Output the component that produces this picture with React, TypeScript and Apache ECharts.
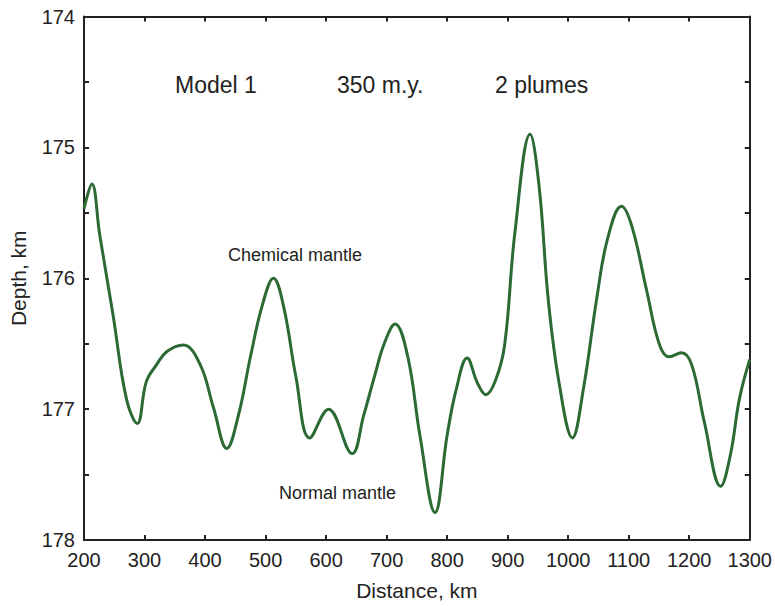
import React, { useEffect, useRef } from "react";
import * as echarts from "echarts";

const distanceKm = [
  200, 213, 226, 248, 270, 288, 303, 320, 337, 364, 392, 414, 436, 455, 475, 495, 513, 530, 550, 573,
  604, 643, 662, 680, 696, 714, 735, 755, 780, 800, 815, 833, 850, 864, 880, 895, 912, 937, 952, 967,
  985, 1007, 1025, 1047, 1065, 1088, 1105, 1129, 1151, 1167, 1187, 1204, 1225, 1252, 1268, 1283, 1300,
];
const depthKm = [
  175.47, 175.28, 175.67, 176.28, 176.92, 177.11, 176.79, 176.66, 176.56, 176.51, 176.66, 176.99, 177.3, 177.05, 176.6, 176.2, 176.0, 176.22, 176.75, 177.22,
  177.0, 177.34, 177.05, 176.75, 176.5, 176.35, 176.6, 177.2, 177.79, 177.2, 176.85, 176.61, 176.8, 176.89, 176.78, 176.51, 175.65, 174.9, 175.3, 176.16,
  176.8, 177.22, 176.85, 176.16, 175.7, 175.45, 175.6, 176.08, 176.51, 176.6, 176.57, 176.66, 177.1, 177.59, 177.35, 176.92, 176.62,
];

const annotations = ["Model 1", "350 m.y.", "2 plumes", "Chemical mantle", "Normal mantle"];

const FONT = "Liberation Sans, Arial, Helvetica, sans-serif";

export default function App() {
  const ref = useRef<HTMLDivElement>(null);
  useEffect(() => {
    if (!ref.current) return;
    const chart = echarts.init(ref.current, null, { renderer: "svg" });
    const axisLine = { show: true, lineStyle: { color: "#222", width: 2 } };
    const tick = { show: true, inside: true, length: 5, lineStyle: { color: "#222", width: 2 } };
    const yLabelFmt = (v: number) => (Math.abs(v - Math.round(v)) < 1e-6 ? String(Math.round(v)) : "");
    chart.setOption({
      animation: false,
      backgroundColor: "#fff",
      grid: { left: 84, right: 25, top: 16.5, bottom: 64, containLabel: false },
      xAxis: [
        {
          type: "value",
          min: 200,
          max: 1300,
          interval: 100,
          position: "bottom",
          name: "Distance, km",
          nameLocation: "middle",
          nameGap: 40,
          nameTextStyle: { fontFamily: FONT, fontSize: 21, color: "#222" },
          axisLine,
          axisTick: tick,
          splitLine: { show: false },
          axisLabel: { fontFamily: FONT, fontSize: 20, color: "#222", margin: 10, formatter: (v: number) => String(v) },
        },
        {
          type: "value",
          min: 200,
          max: 1300,
          interval: 100,
          position: "top",
          axisLine,
          axisTick: tick,
          splitLine: { show: false },
          axisLabel: { show: false },
        },
      ],
      yAxis: [
        {
          type: "value",
          inverse: true,
          min: 174,
          max: 178,
          interval: 0.5,
          position: "left",
          name: "Depth, km",
          nameLocation: "middle",
          nameGap: 55,
          nameTextStyle: { fontFamily: FONT, fontSize: 21, color: "#222" },
          axisLine,
          axisTick: tick,
          splitLine: { show: false },
          axisLabel: { fontFamily: FONT, fontSize: 20, color: "#222", margin: 9, formatter: yLabelFmt },
        },
        {
          type: "value",
          inverse: true,
          min: 174,
          max: 178,
          interval: 0.5,
          position: "right",
          axisLine,
          axisTick: tick,
          splitLine: { show: false },
          axisLabel: { show: false },
        },
      ],
      series: [
        {
          type: "line",
          xAxisIndex: 0,
          yAxisIndex: 0,
          data: distanceKm.map((d, i) => [d, depthKm[i]]),
          smooth: 0.4,
          showSymbol: false,
          lineStyle: { color: "#2c6a34", width: 3 },
        },
      ],
      graphic: [
        { type: "text", left: 175, top: 73, style: { text: annotations[0], font: `23px ${FONT}`, fill: "#222" } },
        { type: "text", left: 337, top: 73, style: { text: annotations[1], font: `23px ${FONT}`, fill: "#222" } },
        { type: "text", left: 495, top: 73, style: { text: annotations[2], font: `23px ${FONT}`, fill: "#222" } },
        { type: "text", left: 228, top: 246, style: { text: annotations[3], font: `18px ${FONT}`, fill: "#222" } },
        { type: "text", left: 279, top: 484, style: { text: annotations[4], font: `18px ${FONT}`, fill: "#222" } },
      ],
    });
    return () => chart.dispose();
  }, []);
  return (
    <div
      ref={ref}
      style={{ position: "fixed", left: 0, top: 0, width: 775, height: 606 }}
    />
  );
}
